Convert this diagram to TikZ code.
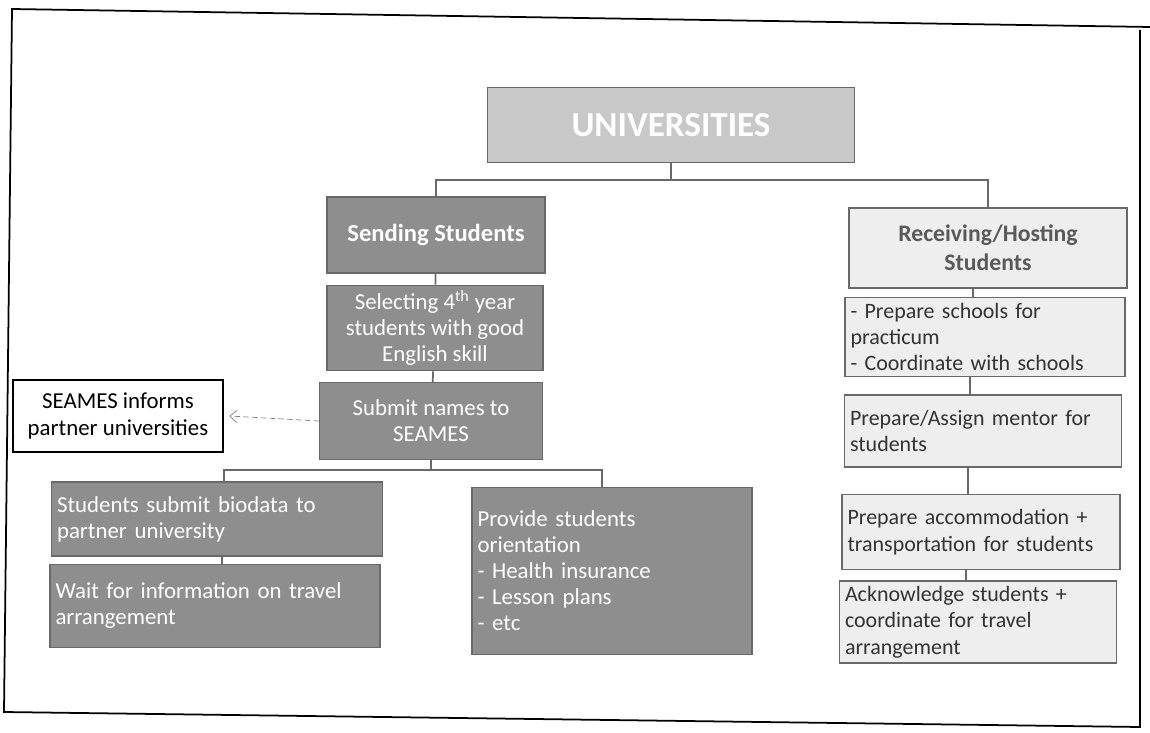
\documentclass[tikz,border=0pt]{standalone}
\usepackage{fontspec}
\setmainfont{Carlito}
\usetikzlibrary{arrows.meta}

\definecolor{unigray}{RGB}{200,200,200}
\definecolor{darkfill}{RGB}{142,142,142}
\definecolor{lightfill}{RGB}{238,238,238}
\definecolor{edgegray}{RGB}{105,105,105}

\begin{document}
\begin{tikzpicture}[x=0.02cm, y=-0.02cm,
    box/.style = {draw=edgegray, line width=0.8pt, inner sep=3pt},
    uni/.style = {box, fill=unigray, text=white, font=\fontsize{20}{24}\selectfont\bfseries},
    dark/.style = {box, fill=darkfill, text=white, font=\fontsize{13}{14.8}\selectfont},
    light/.style = {box, fill=lightfill, text=black!80, font=\fontsize{12.5}{15}\selectfont},
    link/.style = {draw=edgegray, line width=1pt}]
    \useasboundingbox (0,0) rectangle (1150,733);

    % page frame of the scan
    \draw[line width=1pt] (1150,27) -- (12,9) -- (4,712) -- (1140,727) -- (1140,30);

    \node[uni, minimum width=7.34cm, minimum height=1.5cm] (uni) at (671,125) {UNIVERSITIES};

    % sending side
    \node[dark, font=\fontsize{14}{17}\selectfont\bfseries, minimum width=4.36cm, minimum height=1.52cm] (send) at (436,235) {Sending Students};
    \node[dark, align=center, minimum width=4.32cm, minimum height=1.6cm] (select) at (435,328)
        {Selecting 4\textsuperscript{th} year\\ students with good\\ English skill};
    \node[dark, align=center, minimum width=4.46cm, minimum height=1.54cm] (submit) at (431,421)
        {Submit names to\\ SEAMES};
    \node[box, draw=black, line width=1.2pt, fill=white, align=center, font=\fontsize{13}{15.5}\selectfont,
        minimum width=4.2cm, minimum height=1.44cm] (seames) at (118,416)
        {SEAMES informs\\ partner universities};
    \node[dark, align=left, text width=6.4cm, minimum width=6.62cm, minimum height=1.48cm] (stud) at (217,519)
        {Students submit biodata to\\ partner university};
    \node[dark, align=left, text width=6.38cm, minimum width=6.6cm, minimum height=1.66cm] (wait) at (215,606)
        {Wait for information on travel\\ arrangement};
    \node[dark, align=left, text width=5.38cm, minimum width=5.6cm, minimum height=3.34cm] (orient) at (612,571)
        {Provide students\\ orientation\\ - Health insurance\\ - Lesson plans\\ - etc};

    % receiving side
    \node[light, font=\fontsize{13.5}{16.5}\selectfont\bfseries, text=black!65, align=center,
        minimum width=5.56cm, minimum height=1.6cm] (recv) at (988,248) {Receiving/Hosting\\ Students};
    \node[light, align=left, text width=5.38cm, minimum width=5.6cm, minimum height=1.58cm] (schools) at (985,337)
        {- Prepare schools for\\ practicum\\ - Coordinate with schools};
    \node[light, align=left, text width=5.32cm, minimum width=5.54cm, minimum height=1.44cm] (mentor) at (983,431)
        {Prepare/Assign mentor for\\ students};
    \node[light, align=left, text width=5.34cm, minimum width=5.56cm, minimum height=1.5cm] (accom) at (981,532)
        {Prepare accommodation +\\ transportation for students};
    \node[light, align=left, text width=5.32cm, minimum width=5.54cm, minimum height=1.5cm] (ack) at (978,622)
        {Acknowledge students +\\ coordinate for travel\\ arrangement};

    % connectors
    \draw[link] (uni.south) -- ++(0,17) -| (send.north);
    \draw[link] (uni.south) -- ++(0,17) -| (recv.north);
    \draw[link] (send) -- (select);
    \draw[link] (select) -- (submit);
    \draw[link] (submit.south) -- ++(0,10) -| ([xshift=0.14cm]stud.north);
    \draw[link] (submit.south) -- ++(0,10) -| ([xshift=-0.2cm]orient.north);
    \draw[link] ([xshift=0.1cm]stud.south) -- ([xshift=0.1cm]stud.south |- wait.north);
    \draw[densely dashed, gray, -{Straight Barb[length=4pt,width=7pt]}] (submit.west) -- ([xshift=3pt]seames.east);
    \draw[link] ([xshift=-0.3cm]recv.south) -- ([xshift=-0.3cm]recv.south |- schools.north);
    \draw[link] ([xshift=-0.3cm]schools.south) -- ([xshift=-0.3cm]schools.south |- mentor.north);
    \draw[link] ([xshift=-0.3cm]mentor.south) -- ([xshift=-0.3cm]mentor.south |- accom.north);
    \draw[link] ([xshift=-0.3cm]accom.south) -- ([xshift=-0.3cm]accom.south |- ack.north);
\end{tikzpicture}
\end{document}
